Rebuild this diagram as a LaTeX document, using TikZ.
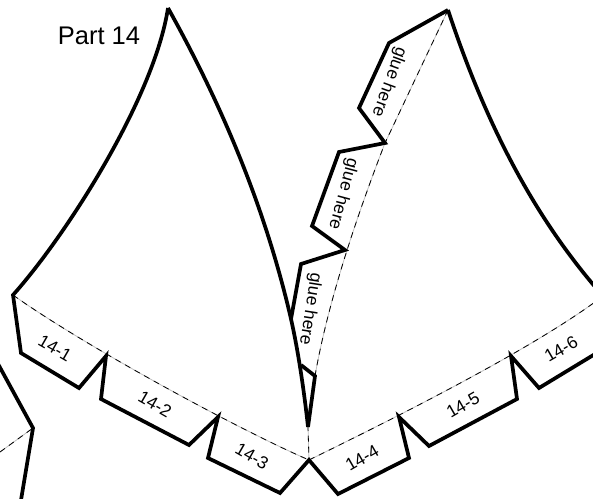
\documentclass[tikz,border=0pt]{standalone}
\usepackage{fontspec}
\setmainfont{Liberation Sans}
\tikzset{
  x=1pt,y=-1pt,
  cut/.style={line width=3.7pt,black,line join=miter,miter limit=8},
  foldbase/.style={line width=0.8pt,black!25},
  folddash/.style={line width=0.8pt,black,dash pattern=on 6pt off 5pt},
  lab/.style={font=\fontsize{17.5pt}{20pt}\selectfont,inner sep=0pt,text=black}
}
\begin{document}
\begin{tikzpicture}
\useasboundingbox (0,0) rectangle (593,498);
\clip (0,0) rectangle (593,498);
\coordinate (apexL) at (168,8);
\coordinate (cornerL) at (13,295);
\coordinate (foldL1) at (106,356);
\coordinate (foldL2) at (218,417);
\coordinate (hub) at (309,460);
\coordinate (foldR1) at (399,417);
\coordinate (foldR2) at (511,356);
\coordinate (cornerR) at (603,296);
\coordinate (apexR) at (448,10);
\coordinate (g1) at (385,143);
\coordinate (g2) at (345,250);
\coordinate (g3) at (315,376);
\coordinate (tip) at (308,427);
\coordinate (cross) at (291,319);
\foreach \s in {foldbase,folddash}{
  \draw[\s] (cornerL) .. controls (80,343) and (235,428) .. (hub);
  \draw[\s] (hub) .. controls (370,430) and (530,352) .. (cornerR);
  \draw[\s] (apexR) -- (g1) .. controls (365,195) and (330,290) .. (g3) -- (tip) -- (hub);
  \draw[\s] (0,452) -- (33,428);
}
\draw[cut] (apexL) .. controls (154,99) and (65,237) .. (cornerL)
  -- (21,353) -- (79,388) -- (foldL1) -- (101,399) -- (189,445) -- (foldL2)
  -- (208,458) -- (280,493) -- (hub) -- (338,494) -- (409,458) -- (foldR1)
  -- (429,446) -- (517,399) -- (foldR2) -- (539,388) -- (600,351);
\draw[cut] (apexL) .. controls (226,112) and (267,215) .. (cross) .. controls (298,350) and (304,390) .. (tip);
\draw[cut] (apexR) -- (389,43) -- (359,108) -- (g1) -- (339,152) -- (312,226) -- (g2)
  -- (301,264) -- (cross);
\draw[cut] (301,365) -- (g3) -- (tip);
\draw[cut] (apexR) .. controls (486,125) and (535,219) .. (cornerR);
\draw[cut] (-3,362) -- (33,428) -- (21,500);
\node[lab,font=\fontsize{25.5pt}{28pt}\selectfont] (t0) at (99,36) {Part 14};
\node[lab,rotate=-30] (t1) at (55,348) {14-1};
\node[lab,rotate=-30] (t2) at (155,404) {14-2};
\node[lab,rotate=-30] (t3) at (252,456) {14-3};
\node[lab,rotate=30] (t4) at (362,458) {14-4};
\node[lab,rotate=30] (t5) at (463,405) {14-5};
\node[lab,rotate=30] (t6) at (561,349) {14-6};
\node[lab,rotate=-110] (g) at (389,82) {glue here};
\node[lab,rotate=-105] (gg) at (343,194) {glue here};
\node[lab,rotate=-99] (ggg) at (310,309) {glue here};
\end{tikzpicture}
\end{document}
